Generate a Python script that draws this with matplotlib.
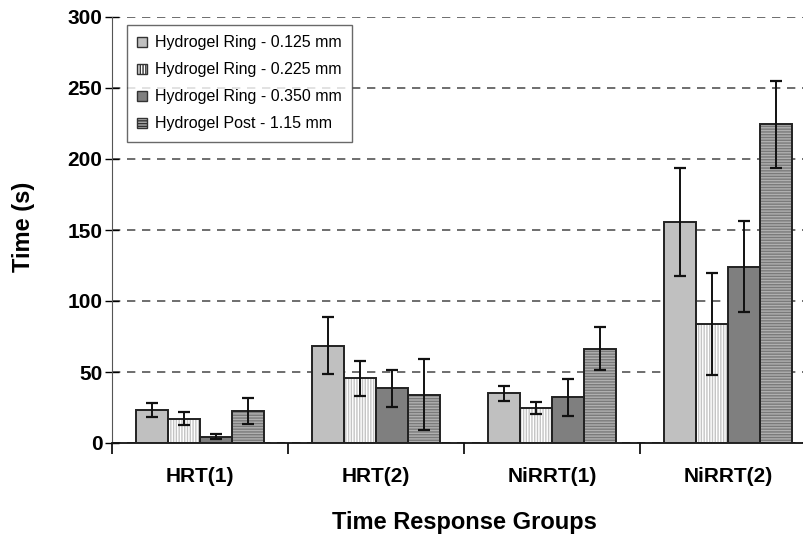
import numpy as np
import matplotlib
matplotlib.use("Agg")
import matplotlib.pyplot as plt
from matplotlib.patches import Patch

# data
groups = ["HRT(1)", "HRT(2)", "NiRRT(1)", "NiRRT(2)"]
series = ["Hydrogel Ring - 0.125 mm", "Hydrogel Ring - 0.225 mm",
          "Hydrogel Ring - 0.350 mm", "Hydrogel Post - 1.15 mm"]

ring_0125 = [23.2, 68.5, 35.0, 155.5]
ring_0225 = [17.0, 45.5, 24.6, 84.0]
ring_0350 = [4.5, 38.5, 32.2, 124.0]
post_115 = [22.5, 34.0, 66.5, 224.5]

err_0125 = [5.0, 20.0, 5.2, 38.0]
err_0225 = [4.5, 12.5, 4.3, 36.0]
err_0350 = [2.0, 13.0, 13.2, 32.0]
err_115 = [9.0, 25.0, 15.0, 30.5]

values = [ring_0125, ring_0225, ring_0350, post_115]
errors = [err_0125, err_0225, err_0350, err_115]

plt.rcParams['font.family'] = ['Liberation Sans', 'DejaVu Sans']
plt.rcParams['hatch.linewidth'] = 1.0

fig = plt.figure(figsize=(8.04, 5.4), dpi=100)
# axes run slightly past the right edge, as in the reference
ax = fig.add_axes([112 / 804, 97 / 540, 704 / 804, 426 / 540])

faces = ['#c0c0c0', 'white', '#7f7f7f', '#b0b0b0']
hatches = [None, '||||||', None, '------']
hatch_cols = ['#c0c0c0', '#c4c4c4', '#7f7f7f', '#7a7a7a']

x = np.arange(len(groups))
w = 0.182
for i in range(4):
    pos = x - 1.5 * w + i * w
    # fill + hatch layer
    ax.bar(pos, values[i], w, color=faces[i], hatch=hatches[i],
           edgecolor=hatch_cols[i], linewidth=0, zorder=2)
    # outline layer
    ax.bar(pos, values[i], w, facecolor='none', edgecolor='#222222',
           linewidth=1.4, zorder=3)
    ax.errorbar(pos, values[i], yerr=errors[i], fmt='none', ecolor='#111111',
                elinewidth=1.4, capsize=4, capthick=1.6, zorder=4)

ax.set_xlim(-0.5, 3.5)
ax.set_ylim(0, 300)
ax.set_yticks(range(0, 301, 50))
ax.yaxis.grid(True, linestyle=(0, (5, 4)), color='#555555', linewidth=1.2)
ax.set_axisbelow(True)

ax.set_xticks(np.arange(-0.5, 3.6, 1.0))
ax.set_xticklabels([])
ax.set_xticks(x, minor=True)
ax.set_xticklabels(groups, minor=True, fontsize=15, fontweight='bold')
ax.tick_params(axis='x', which='minor', length=0, pad=17)
ax.tick_params(axis='x', which='major', length=8, direction='out', width=1.2)
ax.tick_params(axis='y', direction='inout', length=10, width=1, labelsize=15, pad=2)
for lab in ax.get_yticklabels():
    lab.set_fontweight('bold')

ax.spines['top'].set_visible(False)
ax.spines['right'].set_visible(False)
ax.spines['left'].set_color('#555555')
ax.spines['bottom'].set_color('#111111')
ax.spines['bottom'].set_linewidth(1.3)

fig.text(24 / 804, 1 - 227 / 540, "Time (s)", rotation=90, ha='center',
         va='center', fontsize=17, fontweight='bold')
fig.text(464 / 804, 1 - 523 / 540, "Time Response Groups", ha='center',
         va='center', fontsize=17, fontweight='bold')

# legend with proxy patches
handles = [Patch(facecolor=faces[i], hatch=hatches[i], edgecolor='#333333',
                 linewidth=1) for i in range(4)]
leg = ax.legend(handles, series, loc='upper left', bbox_to_anchor=(0.0213, 0.981),
                borderaxespad=0, fontsize=11.5, frameon=True, fancybox=False,
                edgecolor='#444444', handlelength=0.6, handleheight=0.6,
                handletextpad=0.5, labelspacing=0.75, borderpad=0.65)
leg.get_frame().set_linewidth(1.0)

fig.savefig("out.png", dpi=100)
